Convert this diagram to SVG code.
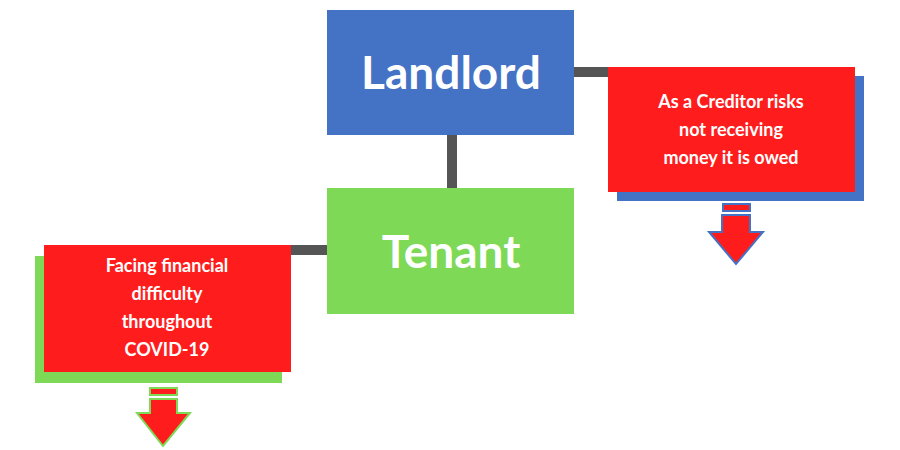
<svg xmlns="http://www.w3.org/2000/svg" width="900" height="450" viewBox="0 0 900 450">
<style>
.big{font-family:Lato,"Liberation Sans",sans-serif;font-weight:bold;fill:#fff;font-size:46px;text-anchor:middle}
.sm{font-family:Lato,"Liberation Sans",sans-serif;font-weight:bold;fill:#fff;font-size:18px;text-anchor:middle}
.red{fill:#ff1c1c}
</style>
<rect width="900" height="450" fill="#fff"/>
<g id="connectors" stroke="#555" stroke-width="10">
<line x1="452" y1="135" x2="452" y2="188"/>
<line x1="574" y1="72" x2="610" y2="72"/>
<line x1="288" y1="250" x2="328" y2="250"/>
</g>
<g id="landlord"><rect x="327" y="10" width="247" height="125" fill="#4472c4"/><text class="big" x="451" y="89">Landlord</text></g>
<g id="tenant"><rect x="327" y="188" width="247" height="126" fill="#7ed957"/><text class="big" x="451" y="268">Tenant</text></g>
<g id="creditor">
<rect x="617" y="76" width="247" height="125" fill="#4472c4"/>
<rect x="608" y="67" width="247" height="125" class="red"/>
<text class="sm" x="731" y="108">As a Creditor risks</text>
<text class="sm" x="731" y="136">not receiving</text>
<text class="sm" x="731" y="164">money it is owed</text>
<g stroke="#4472c4" stroke-width="2" class="red">
<rect x="723" y="204" width="27" height="7"/>
<polygon points="722,215 750,215 750,232 763,232 736,264 709,232 722,232"/>
</g>
</g>
<g id="facing">
<rect x="35" y="256" width="247" height="127" fill="#7ed957"/>
<rect x="44" y="245" width="247" height="127" class="red"/>
<text class="sm" x="167" y="272">Facing financial</text>
<text class="sm" x="167" y="300">difficulty</text>
<text class="sm" x="167" y="328">throughout</text>
<text class="sm" x="167" y="356">COVID-19</text>
<g stroke="#7ed957" stroke-width="2" class="red">
<rect x="150" y="388" width="27" height="7"/>
<polygon points="150,399 177,399 177,413 190,413 163,446 137,413 150,413"/>
</g>
</g>
</svg>
